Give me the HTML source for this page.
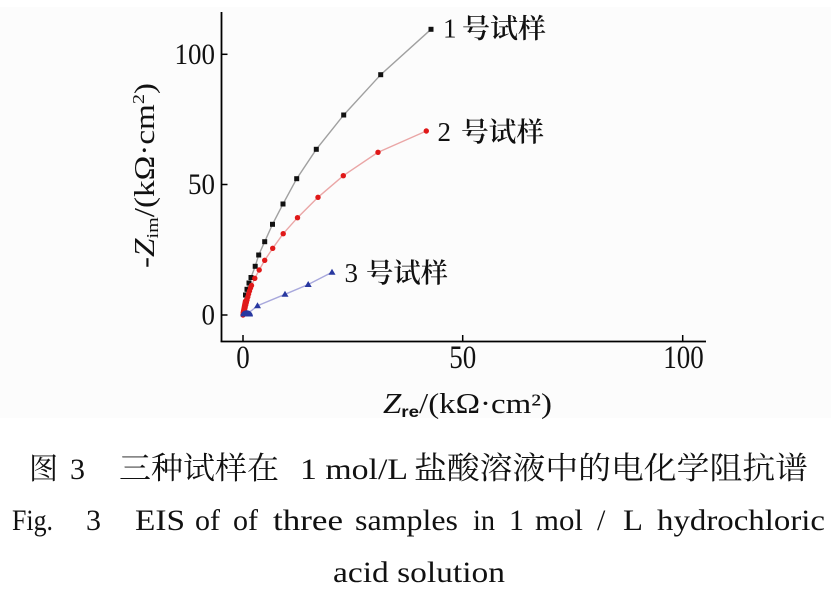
<!DOCTYPE html>
<html><head><meta charset="utf-8"><style>
html,body{margin:0;padding:0;background:#fff;}
svg{display:block;}
</style></head><body>
<svg width="831" height="599" viewBox="0 0 831 599" xmlns="http://www.w3.org/2000/svg">
<rect x="0" y="0" width="831" height="599" fill="#ffffff"/>
<rect x="0" y="7" width="831" height="411" fill="#fcfcfc"/>

<!-- axes -->
<line x1="221.5" y1="12" x2="221.5" y2="342" stroke="#000" stroke-width="1.8"/>
<line x1="220.6" y1="341.5" x2="706" y2="341.5" stroke="#000" stroke-width="1.8"/>
<g stroke="#000" stroke-width="1.5">
<line x1="221.5" y1="54.3" x2="227.5" y2="54.3"/>
<line x1="221.5" y1="184.5" x2="227.5" y2="184.5"/>
<line x1="221.5" y1="315" x2="227.5" y2="315"/>
<line x1="243" y1="341.5" x2="243" y2="335"/>
<line x1="462.7" y1="341.5" x2="462.7" y2="335"/>
<line x1="682.7" y1="341.5" x2="682.7" y2="335"/>
</g>

<!-- tick labels -->
<g font-family="Liberation Serif, serif" font-size="27" fill="#111">
<text transform="translate(215,64) scale(1,1.1)" text-anchor="end">100</text>
<text transform="translate(215,194) scale(1,1.1)" text-anchor="end">50</text>
<text transform="translate(215,324.5) scale(1,1.1)" text-anchor="end">0</text>
<text transform="translate(243,368) scale(1,1.2)" text-anchor="middle">0</text>
<text transform="translate(462.7,368) scale(1,1.2)" text-anchor="middle">50</text>
<text transform="translate(683.5,368) scale(1,1.2)" text-anchor="middle">100</text>
</g>

<!-- axis titles -->
<text x="383" y="413" font-family="Liberation Serif, serif" font-size="28" fill="#111" textLength="169" lengthAdjust="spacingAndGlyphs"><tspan font-style="italic">Z</tspan><tspan font-family="Liberation Sans, sans-serif" font-size="16" dy="4" font-weight="bold">re</tspan><tspan dy="-4">/(kΩ·cm²)</tspan></text>

<text transform="translate(154,268) rotate(-90)" font-family="Liberation Serif, serif" font-size="28" fill="#111" textLength="185" lengthAdjust="spacingAndGlyphs">-<tspan font-style="italic">Z</tspan><tspan font-size="17" dy="4">im</tspan><tspan dy="-4">/(kΩ·cm</tspan><tspan font-size="17" dy="-10">2</tspan><tspan dy="10">)</tspan></text>

<!-- series 1 -->
<polyline fill="none" stroke="#a0a0a0" stroke-width="1.4" points="431,29.3 380.7,74.7 343.7,115 316.3,149.3 296.7,178.7 283,204 272.5,224.3 264.7,241.7 258.7,255 255.2,266.3 251,277.5 249,283 247,289.3 245.5,295 244.5,300 243.8,305 243.3,310 243,315"/>
<g fill="#111">
<rect x="428.5" y="26.8" width="5" height="5"/>
<rect x="378.2" y="72.2" width="5" height="5"/>
<rect x="341.2" y="112.5" width="5" height="5"/>
<rect x="313.8" y="146.8" width="5" height="5"/>
<rect x="294.2" y="176.2" width="5" height="5"/>
<rect x="280.5" y="201.5" width="5" height="5"/>
<rect x="270" y="221.8" width="5" height="5"/>
<rect x="262.2" y="239.2" width="5" height="5"/>
<rect x="256.2" y="252.5" width="5" height="5"/>
<rect x="252.7" y="263.8" width="5" height="5"/>
<rect x="248.5" y="275" width="5" height="5"/>
<rect x="246.5" y="280.5" width="5" height="5"/>
<rect x="244.5" y="286.8" width="5" height="5"/>
<rect x="243" y="292.5" width="5" height="5"/>
</g>

<!-- series 2 -->
<polyline fill="none" stroke="#eaa6a6" stroke-width="1.4" points="426.3,131 378,152.3 343.3,175.7 318,197.3 297.5,217.7 283.2,233.7 272.7,248.3 264.7,260.3 259.2,270 254.8,278.3 251.5,285.5 250.5,288 249.5,291 248.6,294 247.8,297 247,300 246.3,302.5 245.7,305 245.1,307.5 244.6,309.5 244.1,311.5 243.7,313 243.3,314.3 243,315"/>
<g fill="#e01818">
<circle cx="426.3" cy="131" r="2.7"/>
<circle cx="378" cy="152.3" r="2.7"/>
<circle cx="343.3" cy="175.7" r="2.7"/>
<circle cx="318" cy="197.3" r="2.7"/>
<circle cx="297.5" cy="217.7" r="2.7"/>
<circle cx="283.2" cy="233.7" r="2.7"/>
<circle cx="272.7" cy="248.3" r="2.7"/>
<circle cx="264.7" cy="260.3" r="2.7"/>
<circle cx="259.2" cy="270" r="2.7"/>
<circle cx="254.8" cy="278.3" r="2.7"/>
<circle cx="251.5" cy="285.5" r="2.7"/>
<circle cx="250.5" cy="288" r="2.7"/>
<circle cx="249.5" cy="291" r="2.7"/>
<circle cx="248.6" cy="294" r="2.7"/>
<circle cx="247.8" cy="297" r="2.7"/>
<circle cx="247" cy="300" r="2.7"/>
<circle cx="246.3" cy="302.5" r="2.7"/>
<circle cx="245.7" cy="305" r="2.7"/>
<circle cx="245.1" cy="307.5" r="2.7"/>
<circle cx="244.6" cy="309.5" r="2.7"/>
<circle cx="244.1" cy="311.5" r="2.7"/>
<circle cx="243.7" cy="313" r="2.7"/>
<circle cx="243.3" cy="314.3" r="2.7"/>
<circle cx="243" cy="315" r="2.7"/>
</g>
<polygon points="243,315 240.5,313 243,300 247,296 249.5,300 246,312" fill="#e01818"/>

<!-- series 3 -->
<polyline fill="none" stroke="#a8a8dc" stroke-width="1.4" points="332,272.3 308.2,284.5 285,294.3 257.5,305.7 251,311 246,312.5 243,315"/>
<g fill="#2838a0">
<polygon points="332,268.8 335.5,274.8 328.5,274.8"/>
<polygon points="308.2,281 311.7,287 304.7,287"/>
<polygon points="285,290.8 288.5,296.8 281.5,296.8"/>
<polygon points="257.5,302.2 261,308.2 254,308.2"/>
<path d="M240.5,316.5 A6.2,6.2 0 0 1 252.9,316.5 Z"/>
</g>

<!-- series labels -->
<g fill="#111">
<text x="443" y="37.5" font-family="Liberation Serif, serif" font-size="27">1</text>
<text x="462" y="38" font-family="Noto Serif CJK SC, serif" font-size="27" font-weight="600" textLength="84" lengthAdjust="spacingAndGlyphs">号试样</text>
<text x="437.5" y="141" font-family="Liberation Serif, serif" font-size="27">2</text>
<text x="461" y="141.5" font-family="Noto Serif CJK SC, serif" font-size="27" font-weight="600" textLength="83" lengthAdjust="spacingAndGlyphs">号试样</text>
<text x="344.5" y="282" font-family="Liberation Serif, serif" font-size="27">3</text>
<text x="366" y="282.5" font-family="Noto Serif CJK SC, serif" font-size="27" font-weight="600" textLength="82" lengthAdjust="spacingAndGlyphs">号试样</text>
</g>

<!-- caption line 1 -->
<g fill="#111">
<text x="29" y="479" font-family="Noto Serif CJK SC, serif" font-size="30" textLength="29" lengthAdjust="spacingAndGlyphs">图</text>
<text x="70" y="479" font-family="Liberation Serif, serif" font-size="30">3</text>
<text x="119" y="479" font-family="Noto Serif CJK SC, serif" font-size="31" textLength="160" lengthAdjust="spacingAndGlyphs">三种试样在</text>
<text x="300" y="479" font-family="Liberation Serif, serif" font-size="30" textLength="108" lengthAdjust="spacingAndGlyphs">1 mol/L</text>
<text x="414" y="479" font-family="Noto Serif CJK SC, serif" font-size="31" textLength="394" lengthAdjust="spacingAndGlyphs">盐酸溶液中的电化学阻抗谱</text>
</g>

<!-- caption line 2 -->
<g fill="#111" font-family="Liberation Serif, serif" font-size="30">
<text x="12" y="530" textLength="41" lengthAdjust="spacingAndGlyphs">Fig.</text>
<text x="86" y="530">3</text>
<text x="135" y="530" textLength="50" lengthAdjust="spacingAndGlyphs">EIS</text>
<text x="195" y="530" textLength="25" lengthAdjust="spacingAndGlyphs">of</text>
<text x="233" y="530" textLength="25" lengthAdjust="spacingAndGlyphs">of</text>
<text x="273" y="530" textLength="70" lengthAdjust="spacingAndGlyphs">three</text>
<text x="355" y="530" textLength="103" lengthAdjust="spacingAndGlyphs">samples</text>
<text x="473" y="530" textLength="22" lengthAdjust="spacingAndGlyphs">in</text>
<text x="509" y="530">1</text>
<text x="535" y="530" textLength="48" lengthAdjust="spacingAndGlyphs">mol</text>
<text x="597" y="530">/</text>
<text x="623" y="530" textLength="20" lengthAdjust="spacingAndGlyphs">L</text>
<text x="657" y="530" textLength="168" lengthAdjust="spacingAndGlyphs">hydrochloric</text>
</g>

<!-- caption line 3 -->
<text x="333" y="582" fill="#111" font-family="Liberation Serif, serif" font-size="30" textLength="172" lengthAdjust="spacingAndGlyphs">acid solution</text>
</svg>
</body></html>
